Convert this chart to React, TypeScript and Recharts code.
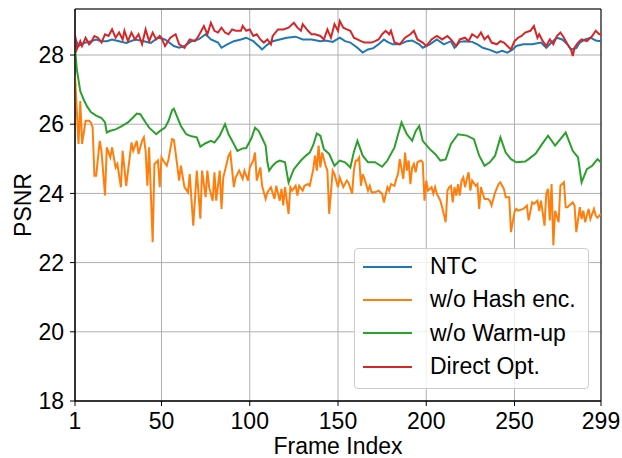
import React from 'react';
import { LineChart, Line, XAxis, YAxis, CartesianGrid, Legend, ReferenceArea } from 'recharts';

// frame indices / PSNR values
const ntcFrames = [
  1, 3, 6, 10, 13, 16, 19, 22, 26, 30,
  35, 40, 44, 48, 52, 57, 60, 63, 67, 71,
  75, 78, 82, 84, 87, 91, 95, 98, 102, 105,
  107, 110, 113, 117, 121, 126, 130, 135, 140, 143,
  147, 151, 154, 157, 161, 164, 167, 170, 173, 176,
  178, 181, 185, 189, 192, 196, 198, 202, 206, 210,
  214, 216, 219, 222, 226, 229, 232, 236, 240, 243,
  246, 249, 251, 255, 260, 265, 268, 271, 274, 277,
  280, 282, 285, 287, 290, 293, 296, 299,
];
const ntcPsnr = [
  28.5, 28.26, 28.35, 28.4, 28.45, 28.4, 28.4, 28.45, 28.4, 28.35,
  28.45, 28.4, 28.35, 28.5, 28.45, 28.26, 28.21, 28.26, 28.4, 28.45,
  28.6, 28.45, 28.36, 28.21, 28.3, 28.4, 28.45, 28.5, 28.4, 28.26,
  28.16, 28.3, 28.4, 28.45, 28.5, 28.53, 28.45, 28.45, 28.4, 28.42,
  28.38, 28.5, 28.4, 28.36, 28.21, 28.07, 28.16, 28.2, 28.31, 28.45,
  28.38, 28.31, 28.31, 28.4, 28.42, 28.31, 28.21, 28.31, 28.45, 28.31,
  28.4, 28.21, 28.38, 28.4, 28.38, 28.31, 28.21, 28.15, 28.07, 28.12,
  28.07, 28.16, 28.26, 28.31, 28.31, 28.36, 28.21, 28.36, 28.5, 28.45,
  28.31, 28.16, 28.2, 28.36, 28.45, 28.5, 28.42, 28.4,
];

const hashFrames = [
  1, 3, 4, 5, 7, 9, 10, 11, 12, 13,
  15, 16, 18, 19, 21, 22, 24, 25, 27, 28,
  30, 32, 33, 34, 36, 37, 39, 40, 41, 42,
  43, 45, 46, 48, 49, 50, 51, 53, 54, 56,
  57, 58, 60, 61, 63, 65, 66, 68, 70, 71,
  72, 73, 75, 76, 77, 79, 80, 81, 83, 84,
  85, 86, 88, 89, 91, 92, 94, 96, 97, 99,
  100, 102, 103, 104, 106, 107, 109, 110, 112, 114,
  115, 117, 118, 119, 120, 122, 123, 124, 126, 127,
  128, 130, 131, 133, 134, 136, 137, 138, 139, 140,
  141, 143, 144, 145, 147, 148, 150, 151, 153, 155,
  156, 158, 159, 160, 161, 162, 163, 164, 165, 167,
  168, 169, 171, 173, 175, 176, 178, 179, 180, 182,
  183, 184, 185, 187, 188, 189, 190, 191, 192, 193,
  194, 195, 197, 198, 199, 200, 201, 203, 204, 205,
  206, 208, 209, 211, 212, 213, 214, 215, 216, 217,
  218, 219, 220, 221, 222, 223, 224, 225, 226, 228,
  229, 230, 231, 233, 235, 236, 237, 238, 239, 241,
  242, 244, 245, 247, 248, 250, 251, 252, 255, 257,
  258, 260, 261, 263, 264, 265, 267, 268, 269, 270,
  271, 272, 273, 275, 276, 278, 279, 280, 281, 283,
  284, 285, 287, 288, 289, 290, 292, 293, 295, 296,
  297, 299,
];
const hashPsnr = [
  27.4, 25.43, 26.67, 25.43, 26.1, 26.1, 26.05, 25.9, 24.51, 24.51,
  25.52, 25.23, 23.94, 25.33, 25.04, 25.33, 24.75, 24.85, 24.18, 25.23,
  24.22, 25.04, 25.47, 25.23, 25.52, 25.14, 25.52, 25.62, 25.23, 24.22,
  25.33, 22.59, 24.85, 24.95, 24.18, 25.04, 24.95, 24.8, 24.99, 25.57,
  25.55, 25.18, 24.37, 24.8, 24.18, 24.03, 24.56, 23.07, 24.66, 23.99,
  23.27, 24.66, 23.89, 24.66, 24.18, 23.79, 24.61, 23.79, 24.66, 23.55,
  24.46, 24.66, 25.09, 25.18, 24.18, 24.46, 24.66, 24.42, 24.66, 24.37,
  24.75, 24.95, 25.18, 24.37, 24.75, 24.22, 23.84, 24.03, 24.18, 23.84,
  24.22, 23.79, 24.13, 23.65, 24.18, 23.41, 24.18, 24.08, 24.22, 23.94,
  24.22, 24.08, 24.22, 24.27, 24.22, 24.7, 25.09, 24.66, 25.38, 24.75,
  25.18, 24.8, 24.66, 23.41, 24.66, 24.56, 24.18, 24.46, 24.18, 24.37,
  24.3, 23.99, 24.66, 24.95, 24.95, 25.04, 24.22, 24.56, 24.42, 24.08,
  24.22, 24.03, 24.03, 24.08, 23.99, 23.74, 24.18, 24.08, 24.27, 24.22,
  24.42, 24.56, 24.99, 24.42, 25.18, 24.66, 24.95, 24.27, 24.75, 24.85,
  24.61, 24.9, 24.95, 24.9, 23.79, 24.37, 24.08, 24.18, 23.99, 24.18,
  23.99, 23.79, 23.6, 23.17, 24.08, 24.18, 24.22, 23.74, 24.18, 23.94,
  24.27, 23.94, 24.37, 24.46, 24.18, 24.42, 24.61, 24.08, 24.37, 24.22,
  24.27, 23.55, 24.18, 23.84, 23.84, 23.79, 23.65, 23.84, 24.03, 24.27,
  24.32, 24.13, 23.89, 23.89, 22.88, 23.46, 23.55, 23.5, 23.55, 23.65,
  23.22, 23.74, 23.7, 23.79, 23.5, 23.79, 23.07, 23.99, 24.13, 23.22,
  24.27, 22.5, 23.5, 23.17, 24.22, 24.32, 23.6, 23.6, 23.65, 23.74,
  23.65, 22.88, 23.6, 23.26, 23.5, 23.17, 23.55, 23.26, 23.55, 23.36,
  23.3, 23.41,
];

const warmFrames = [
  1, 2, 4, 6, 8, 10, 13, 16, 18, 19,
  21, 24, 27, 31, 34, 36, 38, 41, 43, 47,
  49, 52, 54, 56, 57, 59, 61, 64, 67, 70,
  72, 75, 78, 80, 83, 86, 88, 91, 93, 96,
  98, 101, 103, 105, 107, 109, 110, 111, 113, 115,
  117, 120, 121, 122, 125, 129, 132, 134, 136, 138,
  140, 142, 145, 148, 151, 154, 157, 159, 161, 164,
  167, 171, 175, 178, 182, 184, 186, 189, 192, 194,
  196, 198, 202, 205, 208, 211, 214, 218, 223, 227,
  230, 233, 236, 239, 242, 245, 248, 251, 256, 258,
  262, 265, 269, 273, 279, 283, 286, 288, 291, 294,
  297, 299,
];
const warmPsnr = [
  28.2, 27.6, 26.95, 26.7, 26.5, 26.35, 26.25, 26.18, 26.05, 25.76,
  25.81, 25.85, 25.93, 26.05, 26.2, 26.31, 26.29, 26.05, 25.9, 25.71,
  25.8, 25.9, 26.1, 26.4, 26.45, 26.2, 25.95, 25.71, 25.65, 25.62,
  25.35, 25.45, 25.52, 25.47, 25.67, 26.0, 25.71, 25.43, 25.23, 25.3,
  25.31, 25.6, 25.9, 25.81, 25.6, 25.38, 24.9, 24.66, 24.8, 24.9,
  24.95, 24.9, 24.6, 24.32, 24.7, 24.95, 25.1, 25.18, 25.4, 25.73,
  25.67, 25.28, 25.14, 24.8, 24.95, 24.9, 24.75, 25.2, 25.52, 25.09,
  24.9, 24.9, 24.77, 24.95, 25.33, 25.7, 26.05, 25.71, 25.52, 25.8,
  25.95, 25.52, 25.28, 25.14, 24.95, 24.98, 25.43, 25.71, 25.67, 25.57,
  25.09, 24.8, 24.9, 25.09, 25.62, 25.18, 24.99, 24.9, 24.92, 24.99,
  25.15, 25.38, 25.67, 25.38, 25.76, 25.23, 25.04, 24.32, 24.7, 24.8,
  24.99, 24.9,
];

const directFrames = [
  1, 2, 4, 5, 7, 9, 10, 12, 14, 16,
  18, 20, 22, 24, 26, 28, 29, 31, 33, 35,
  37, 39, 41, 43, 45, 47, 49, 50, 52, 55,
  58, 60, 63, 66, 69, 71, 74, 76, 78, 80,
  82, 84, 86, 88, 90, 92, 95, 96, 98, 100,
  102, 104, 106, 108, 110, 112, 113, 116, 119, 122,
  125, 127, 129, 130, 133, 135, 137, 140, 142, 144,
  146, 148, 150, 151, 153, 155, 157, 159, 161, 163,
  165, 167, 169, 171, 173, 175, 177, 179, 180, 182,
  185, 188, 191, 193, 195, 198, 200, 203, 206, 209,
  212, 214, 217, 219, 222, 224, 226, 229, 231, 233,
  235, 237, 240, 242, 244, 247, 248, 250, 252, 254,
  256, 259, 261, 263, 264, 266, 268, 270, 272, 274,
  276, 278, 280, 282, 283, 284, 286, 288, 291, 294,
  296, 298, 299,
];
const directPsnr = [
  28.6, 28.16, 28.4, 28.26, 28.5, 28.31, 28.36, 28.55, 28.5, 28.36,
  28.6, 28.55, 28.74, 28.5, 28.65, 28.45, 28.7, 28.4, 28.65, 28.45,
  28.6, 28.31, 28.74, 28.4, 28.65, 28.45, 28.55, 28.5, 28.26, 28.5,
  28.6, 28.31, 28.21, 28.45, 28.4, 28.55, 28.84, 28.6, 28.93, 28.7,
  28.65, 28.79, 28.65, 28.6, 28.74, 28.7, 28.7, 28.84, 28.7, 28.74,
  28.55, 28.6, 28.45, 28.36, 28.45, 28.31, 28.55, 28.74, 28.74, 28.79,
  28.93, 28.79, 28.7, 28.89, 28.7, 28.6, 28.6, 28.55, 28.45, 28.74,
  28.5, 28.89, 28.7, 28.98, 28.79, 28.74, 28.7, 28.5, 28.45, 28.4,
  28.36, 28.36, 28.36, 28.4, 28.45, 28.6, 28.7, 28.6, 28.7, 28.36,
  28.31, 28.5, 28.6, 28.7, 28.45, 28.36, 28.26, 28.45, 28.55, 28.45,
  28.55, 28.45, 28.26, 28.45, 28.5, 28.4, 28.6, 28.5, 28.65, 28.45,
  28.55, 28.36, 28.31, 28.4, 28.36, 28.21, 28.16, 28.4, 28.5, 28.55,
  28.65, 28.7, 28.84, 28.5, 28.6, 28.4, 28.26, 28.45, 28.31, 28.55,
  28.65, 28.5, 28.31, 28.16, 27.97, 28.21, 28.36, 28.45, 28.4, 28.55,
  28.7, 28.6, 28.6,
];

const xTicks = [1, 50, 100, 150, 200, 250, 299];
const yTicks = [18, 20, 22, 24, 26, 28];

const FONT = '"Liberation Sans", Arial, Helvetica, sans-serif';

const toPoints = (frames: number[], values: number[]) =>
  frames.map((f, i) => ({ frame: f, psnr: values[i] }));

const series = [
  { name: 'NTC', color: '#1f77b4', data: toPoints(ntcFrames, ntcPsnr) },
  { name: 'w/o Hash enc.', color: '#ff7f0e', data: toPoints(hashFrames, hashPsnr) },
  { name: 'w/o Warm-up', color: '#2ca02c', data: toPoints(warmFrames, warmPsnr) },
  { name: 'Direct Opt.', color: '#d62728', data: toPoints(directFrames, directPsnr) },
];

// legend keeps the plotting order (recharts sorts payload by name otherwise)
const renderLegend = () => (
  <div
    style={{
      width: 233,
      height: 138,
      border: '1px solid #cccccc',
      borderRadius: 4,
      background: 'rgba(255,255,255,0.8)',
      fontFamily: FONT,
      fontSize: 23,
      color: '#000',
      paddingTop: 1,
      boxSizing: 'content-box',
    }}
  >
    {series.map((s) => (
      <div key={s.name} style={{ display: 'flex', alignItems: 'center', height: 33.3 }}>
        <div style={{ width: 49, height: 2, background: s.color, marginLeft: 8, marginRight: 18 }} />
        <span style={{ lineHeight: '33px', whiteSpace: 'nowrap' }}>{s.name}</span>
      </div>
    ))}
  </div>
);

const YLabel = (props: any) => {
  const { viewBox } = props;
  const cy = viewBox.y + viewBox.height / 2;
  return (
    <text x={31} y={cy} transform={`rotate(-90 31 ${cy})`} textAnchor="middle" fill="#000"
      style={{ fontFamily: FONT, fontSize: 23 }}>
      PSNR
    </text>
  );
};

export default function App() {
  const tickStyle = { fontFamily: FONT, fontSize: 23, fill: '#000' };
  return (
    <div style={{ position: 'absolute', left: 0, top: 0, width: 622, height: 458, background: '#fff' }}>
      <LineChart width={622} height={458} margin={{ top: 9, right: 21, left: 0, bottom: 0 }}>
        <CartesianGrid stroke="#b0b0b0" strokeWidth={1} />
        <XAxis
          type="number"
          dataKey="frame"
          domain={[1, 299]}
          ticks={xTicks}
          allowDataOverflow
          height={57}
          tickSize={5}
          tickMargin={7}
          tick={tickStyle}
          stroke="#000"
          label={{ value: 'Frame Index', position: 'insideBottom', offset: 4, style: { fontFamily: FONT, fontSize: 23, fill: '#000' } }}
        />
        <YAxis
          type="number"
          domain={[18, 29.33]}
          ticks={yTicks}
          allowDataOverflow
          width={75}
          tickSize={5}
          tickMargin={6}
          tick={tickStyle}
          stroke="#000"
          label={(p: any) => <YLabel {...p} />}
        />
        {series.map((s) => (
          <Line
            key={s.name}
            data={s.data}
            dataKey="psnr"
            name={s.name}
            type="linear"
            stroke={s.color}
            strokeWidth={2}
            dot={false}
            activeDot={false}
            isAnimationActive={false}
          />
        ))}
        <ReferenceArea x1={1} x2={299} y1={18} y2={29.33} fill="none" stroke="#000" strokeWidth={1} ifOverflow="visible" />
        <Legend
          layout="vertical"
          align="center"
          verticalAlign="middle"
          content={renderLegend}
          wrapperStyle={{ left: 354, top: 248, width: 235, height: 140 }}
        />
      </LineChart>
    </div>
  );
}
